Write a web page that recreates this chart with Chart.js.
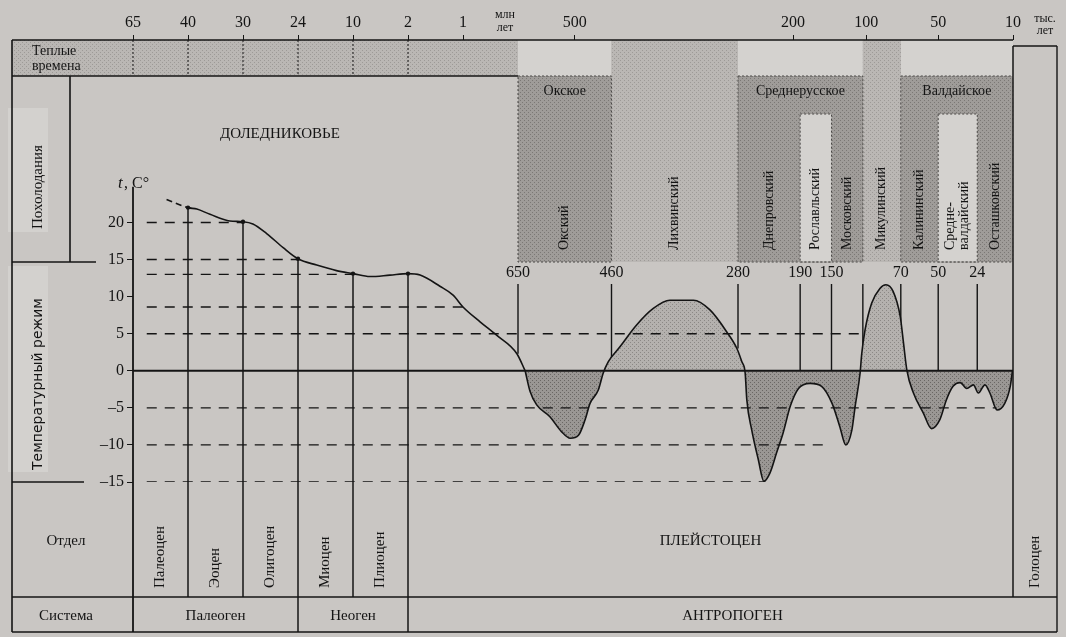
<!DOCTYPE html>
<html lang="ru">
<head>
<meta charset="utf-8">
<title>Температурный режим кайнозоя</title>
<script src="https://cdn.jsdelivr.net/npm/chart.js@4.4.1/dist/chart.umd.min.js"></script>
<style>
  html, body { margin: 0; padding: 0; background: #c9c6c3; }
  #grafico { display: block; }
</style>
</head>
<body>
<canvas id="grafico" width="1066" height="637"></canvas>
<script>
// Шкала времени: положение на схеме (усл. ед.) и подпись возраста
const ageTickPos   = [0, 10, 20, 30, 40, 50, 60, 80.3, 120, 133.3, 146.4, 160];
const ageTickLabel = ['65', '40', '30', '24', '10', '2', '1', '500', '200', '100', '50', '10'];

// Деления шкалы температуры
const tempTicks = [-15, -10, -5, 0, 5, 10, 15, 20];

// Кривая температуры до оледенений (млн лет)
const preglacialPos  = [6.1, 10, 11.6, 14, 17.6, 20, 21.8, 24.3, 27.3, 30, 33.4, 37, 40, 43.1, 46.7, 50, 52.2, 55.8, 58.2, 60, 63.1, 66.1, 69.8, 71.3];
const preglacialTemp = [23.1, 22, 21.8, 21.1, 20.2, 20.1, 19.8, 18.5, 16.6, 15.1, 14.25, 13.5, 13.1, 12.7, 12.9, 13.1, 12.9, 11.4, 10.2, 8.6, 6.6, 4.8, 2.3, 0];

// Кривая температуры в плейстоцене (тыс. лет)
const pleistPos  = [71.3, 72.2, 73.4, 75.8, 77.9, 79.5, 81, 82.2, 83.1, 84.6, 85.5, 86.4, 88.5, 91.6, 94.6, 97.6, 101.9, 104.9, 107.9, 109.8,
  110.7, 111.3, 111.6, 112.5, 113.7, 114.7, 115.8, 117, 118.2, 119.5, 121, 123.1, 125.2, 127.1, 128.5, 129.6, 130.7, 131.3, 132.2, 132.5,
  133.1, 134.3, 135.8, 136.9, 138.2, 139.5, 140.1, 140.7, 141.9, 143.7, 145.2, 146.7, 147.9, 149.1, 150.4, 151.6, 152.8, 153.7, 154.9, 155.8,
  157.1, 158.5, 159.5, 159.9];
const pleistTemp = [0, -2.8, -4.6, -6.2, -8.2, -9.1, -8.7, -6.6, -4.4, -2.6, -0.3, 1.2, 3.2, 6.2, 8.4, 9.5, 9.5, 8.2, 5.3, 3.0,
  1.2, -0.3, -3.9, -8.0, -12.0, -14.9, -13.8, -11.1, -8.4, -4.8, -2.4, -1.7, -2.1, -4.4, -7.5, -10.0, -8.0, -4.8, -0.3, 2.3,
  5.5, 9.1, 11.1, 11.6, 10.7, 7.3, 3.7, 0.1, -3.0, -5.7, -7.8, -6.6, -3.9, -2.1, -1.6, -2.4, -1.9, -3.0, -1.9, -3.0,
  -5.3, -4.4, -2.1, 0];

// Температура на границах отделов
const epochBoundPos  = [10, 20, 30, 40, 50];
const epochBoundTemp = [22, 20.1, 15.1, 13.1, 13.1];

// Опорные уровни температуры (пунктир) и где они кончаются
const refLevelTemp = [20, 15, 13, 8.6, 5, -5, -10, -15];
const refLevelEnd  = [20, 30, 40, 60, 132.8, 157, 126, 115];
const refLevelStart = 2.5;

// Границы горизонтов плейстоцена (тыс. лет) и температура в точке
const stageBoundPos   = [70, 87, 110, 121.3, 127, 132.7, 139.6, 146.4, 153.5];
const stageBoundLabel = ['650', '460', '280', '190', '150', '', '70', '50', '24'];
const stageBoundTemp  = [2.3, 1.2, 3.0, 0, 0, 0, 5.5, 0, 0];
const holoceneStart = 160;

// Горизонты: название и тип (cold - ледниковый, warm - межледниковый, inter - межстадиал)
const stageNames = ['Окский', 'Лихвинский', 'Днепровский', 'Рославльский', 'Московский', 'Микулинский', 'Калининский', 'Средне-\nвалдайский', 'Осташковский'];
const stageType  = ['cold', 'warm', 'cold', 'inter', 'cold', 'warm', 'cold', 'inter', 'cold'];

// Оледенения
const glacialNames = ['Окское', 'Среднерусское', 'Валдайское'];
const glacialFrom  = [70, 110, 139.6];
const glacialTo    = [87, 132.7, 160];

// Отделы и системы
const epochNames = ['Палеоцен', 'Эоцен', 'Олигоцен', 'Миоцен', 'Плиоцен', 'ПЛЕЙСТОЦЕН', 'Голоцен'];
const epochFrom  = [0, 10, 20, 30, 40, 50, 160];
const epochTo    = [10, 20, 30, 40, 50, 160, 168];
const systemNames = ['Палеоген', 'Неоген', 'АНТРОПОГЕН'];
const systemFrom  = [0, 30, 50];
const systemTo    = [30, 50, 168];

// ---- Оформление ----
const SERIF = '"Liberation Serif", "DejaVu Serif", serif';
const INK = '#141414';
const BG = '#c9c6c3';
const ROW = { bandTop: 40, bandBottom: 76, interTop: 114, coldBottom: 262, boundLabel: 273, boundTop: 284, split: 597, bottom: 632 };
const FRAME_LEFT = 12, INNER_COL = 70;

function hatch(base, ink) {
  const c = document.createElement('canvas');
  c.width = 4; c.height = 4;
  const g = c.getContext('2d');
  g.fillStyle = base; g.fillRect(0, 0, 4, 4);
  g.fillStyle = ink;
  g.fillRect(0, 0, 1, 1); g.fillRect(2, 2, 1, 1);
  return g.createPattern(c, 'repeat');
}
const warmHatch = hatch('#bab7b4', '#9d9a97');
const coldHatch = hatch('#9f9c99', '#7b7875');
const paleFill = '#d4d2cf';
const curveWarm = hatch('#b4b1ae', '#8b8885');
const curveCold = hatch('#9a9794', '#6a6764');

function pts(xs, ys) {
  return xs.map((x, i) => ({ x: x, y: ys[i] }));
}

function line(ctx, x1, y1, x2, y2, w, dash) {
  ctx.save();
  ctx.strokeStyle = INK;
  ctx.lineWidth = w || 1.3;
  ctx.setLineDash(dash || []);
  ctx.beginPath(); ctx.moveTo(x1, y1); ctx.lineTo(x2, y2); ctx.stroke();
  ctx.restore();
}

function text(ctx, str, x, y, size, align) {
  ctx.font = size + 'px ' + SERIF;
  ctx.fillStyle = INK;
  ctx.textAlign = align || 'center';
  ctx.textBaseline = 'middle';
  ctx.fillText(str, x, y);
}

// вертикальная подпись, читается снизу вверх, низ строки в точке y
function vtext(ctx, str, x, y, size, font) {
  const lines = str.split('\n');
  ctx.save();
  ctx.translate(x, y);
  ctx.rotate(-Math.PI / 2);
  ctx.font = size + 'px ' + (font || SERIF);
  ctx.fillStyle = INK;
  ctx.textAlign = 'left';
  ctx.textBaseline = 'middle';
  lines.forEach((s, i) => ctx.fillText(s, 0, (i - (lines.length - 1) / 2) * size));
  ctx.restore();
}

const schemePlugin = {
  id: 'scheme',
  beforeDraw(chart) {
    const ctx = chart.ctx;
    const px = v => chart.scales.x.getPixelForValue(v);
    ctx.save();
    ctx.fillStyle = BG;
    ctx.fillRect(0, 0, chart.width, chart.height);

    // полоса «Теплые времена»
    ctx.fillStyle = warmHatch;
    ctx.fillRect(FRAME_LEFT, ROW.bandTop, px(holoceneStart) - FRAME_LEFT, ROW.bandBottom - ROW.bandTop);
    glacialFrom.forEach((f, i) => {
      ctx.fillStyle = paleFill;
      ctx.fillRect(px(f), ROW.bandTop, px(glacialTo[i]) - px(f), ROW.bandBottom - ROW.bandTop);
    });

    // межледниковья и оледенения
    stageType.forEach((t, i) => {
      const a = px(stageBoundPos[i]);
      const b = px(i + 1 < stageBoundPos.length ? stageBoundPos[i + 1] : holoceneStart);
      if (t === 'warm') {
        ctx.fillStyle = warmHatch;
        ctx.fillRect(a, ROW.bandTop, b - a, ROW.coldBottom - ROW.bandTop);
      }
    });
    glacialFrom.forEach((f, i) => {
      ctx.fillStyle = coldHatch;
      ctx.fillRect(px(f), ROW.bandBottom, px(glacialTo[i]) - px(f), ROW.coldBottom - ROW.bandBottom);
    });
    stageType.forEach((t, i) => {
      if (t !== 'inter') return;
      const a = px(stageBoundPos[i]), b = px(stageBoundPos[i + 1]);
      ctx.fillStyle = paleFill;
      ctx.fillRect(a, ROW.interTop, b - a, ROW.coldBottom - ROW.interTop);
    });

    // наклеенные подписи слева
    ctx.fillStyle = '#d3d1ce';
    ctx.fillRect(8, 108, 40, 124);
    ctx.fillRect(8, 266, 40, 206);
    ctx.restore();
  },
  beforeDatasetsDraw(chart) {
    const ctx = chart.ctx;
    const xs = chart.scales.x, ys = chart.scales.y;
    const px = v => xs.getPixelForValue(v);
    const py = v => ys.getPixelForValue(v);
    const right = px(epochTo[epochTo.length - 1]);
    const holoX = px(holoceneStart);

    // рамки полосы
    line(ctx, FRAME_LEFT, ROW.bandTop, holoX, ROW.bandTop, 1.4);
    line(ctx, holoX, ROW.bandTop + 6, right, ROW.bandTop + 6, 1.4);
    line(ctx, FRAME_LEFT, ROW.bandBottom, px(glacialFrom[0]), ROW.bandBottom, 1.6);
    [0].concat(epochBoundPos).forEach(p => line(ctx, px(p), ROW.bandTop, px(p), ROW.bandBottom, 1, [2, 2]));

    // левая колонка
    line(ctx, FRAME_LEFT, ROW.bandTop, FRAME_LEFT, ROW.bottom, 1.6);
    line(ctx, INNER_COL, ROW.bandBottom, INNER_COL, ROW.coldBottom, 1.6);
    line(ctx, FRAME_LEFT, ROW.coldBottom, 96, ROW.coldBottom, 1.6);
    line(ctx, FRAME_LEFT, chart.chartArea.bottom, 84, chart.chartArea.bottom, 1.6);

    // таблица внизу
    line(ctx, FRAME_LEFT, ROW.split, right, ROW.split, 1.4);
    line(ctx, FRAME_LEFT, ROW.bottom, right, ROW.bottom, 1.4);
    line(ctx, right, ROW.bandTop + 6, right, ROW.bottom, 1.4);
    line(ctx, px(0), py(24.8), px(0), ROW.bottom, 1.8);
    epochFrom.forEach((f, i) => {
      if (i === 0) return;
      const k = epochBoundPos.indexOf(f);
      const top = k >= 0 ? py(epochBoundTemp[k]) : ROW.bandTop + 6;
      const bottom = systemFrom.indexOf(f) >= 0 ? ROW.bottom : ROW.split;
      line(ctx, px(f), top, px(f), bottom, 1.5);
    });

    // рамки оледенений
    glacialFrom.forEach((f, i) => {
      ctx.save();
      ctx.strokeStyle = '#4a4846';
      ctx.lineWidth = 1;
      ctx.setLineDash([2, 2]);
      ctx.strokeRect(px(f), ROW.bandBottom, px(glacialTo[i]) - px(f), ROW.coldBottom - ROW.bandBottom);
      ctx.restore();
    });
    stageType.forEach((t, i) => {
      if (t !== 'inter') return;
      ctx.save();
      ctx.strokeStyle = '#4a4846';
      ctx.lineWidth = 1;
      ctx.setLineDash([2, 2]);
      ctx.strokeRect(px(stageBoundPos[i]), ROW.interTop, px(stageBoundPos[i + 1]) - px(stageBoundPos[i]), ROW.coldBottom - ROW.interTop);
      ctx.restore();
    });

    // границы горизонтов
    stageBoundPos.forEach((p, i) => {
      line(ctx, px(p), ROW.boundTop, px(p), py(stageBoundTemp[i]), 1.4);
      if (stageBoundLabel[i]) text(ctx, stageBoundLabel[i], px(p), ROW.boundLabel, 16);
    });

    // подписи
    text(ctx, 'млн', px(60) + 42, 15, 12);
    text(ctx, 'лет', px(60) + 42, 28, 12);
    text(ctx, 'тыс.', holoX + 32, 19, 12);
    text(ctx, 'лет', holoX + 32, 31, 12);
    text(ctx, 'Теплые', 32, 51, 14, 'left');
    text(ctx, 'времена', 32, 66, 14, 'left');
    vtext(ctx, 'Похолодания', 38, 229, 15);
    vtext(ctx, 'Температурный режим', 38, 470, 14, '"DejaVu Sans", sans-serif');
    text(ctx, 'ДОЛЕДНИКОВЬЕ', 280, 134, 15);

    ctx.save();
    ctx.font = 'italic 17px ' + SERIF;
    ctx.fillStyle = INK;
    ctx.textBaseline = 'middle';
    ctx.textAlign = 'left';
    ctx.fillText('t', 118, 184);
    ctx.font = '16px ' + SERIF;
    ctx.fillText(', C°', 124, 184);
    ctx.restore();

    glacialNames.forEach((n, i) => text(ctx, n, (px(glacialFrom[i]) + px(glacialTo[i])) / 2, 91, 14));
    stageNames.forEach((n, i) => {
      const a = px(stageBoundPos[i]);
      const b = px(i + 1 < stageBoundPos.length ? stageBoundPos[i + 1] : holoceneStart);
      vtext(ctx, n, (a + b) / 2, 250, 14);
    });

    epochNames.forEach((n, i) => {
      const a = px(epochFrom[i]), b = px(epochTo[i]);
      if (b - a < 100) vtext(ctx, n, (a + b) / 2, 588, 15);
      else text(ctx, n, (a + b) / 2, 541, 15);
    });
    systemNames.forEach((n, i) => text(ctx, n, (px(systemFrom[i]) + px(systemTo[i])) / 2, 616, 15));
    text(ctx, 'Отдел', 66, 541, 15);
    text(ctx, 'Система', 66, 616, 15);
  }
};

const ctx = document.getElementById('grafico');

const refDatasets = refLevelTemp.map((t, i) => ({
  data: [{ x: refLevelStart, y: t }, { x: refLevelEnd[i], y: t }],
  borderColor: INK,
  borderWidth: 1.4,
  borderDash: [10, 8],
  pointRadius: 0,
  order: 1
}));

const chart = new Chart(ctx, {
  type: 'line',
  data: {
    datasets: refDatasets.concat([
      {
        label: 'Доледниковье',
        data: pts(preglacialPos, preglacialTemp),
        borderColor: INK,
        borderWidth: 1.6,
        pointRadius: 0,
        cubicInterpolationMode: 'monotone',
        fill: false,
        segment: { borderDash: c => c.p0DataIndex === 0 ? [6, 4] : undefined },
        order: 2
      },
      {
        label: 'Плейстоцен',
        data: pts(pleistPos, pleistTemp),
        borderColor: INK,
        borderWidth: 1.6,
        pointRadius: 0,
        cubicInterpolationMode: 'monotone',
        fill: { target: 'origin', above: curveWarm, below: curveCold },
        order: 2
      },
      {
        label: 'Ноль',
        data: [{ x: 0, y: 0 }, { x: holoceneStart, y: 0 }],
        borderColor: INK,
        borderWidth: 2,
        pointRadius: 0,
        order: 0
      },
      {
        label: 'Границы отделов',
        data: pts(epochBoundPos, epochBoundTemp),
        showLine: false,
        pointRadius: 2.2,
        pointBackgroundColor: INK,
        pointBorderWidth: 0,
        order: 0
      }
    ])
  },
  options: {
    responsive: false,
    animation: false,
    layout: { padding: { left: 80, right: 53, top: 0, bottom: 155 } },
    plugins: {
      legend: { display: false },
      tooltip: { enabled: false }
    },
    scales: {
      x: {
        type: 'linear',
        position: 'top',
        min: 0,
        max: 160,
        afterFit: s => { s.height = 40; },
        afterBuildTicks: s => { s.ticks = ageTickPos.map(v => ({ value: v })); },
        ticks: {
          autoSkip: false,
          maxRotation: 0,
          padding: 3,
          color: INK,
          font: { family: SERIF, size: 16 },
          callback: (v, i) => ageTickLabel[i]
        },
        grid: { drawOnChartArea: false, drawTicks: true, tickLength: 5, color: INK },
        border: { display: false }
      },
      y: {
        min: -15,
        max: 44.6,
        afterFit: s => { s.width = 53; },
        afterBuildTicks: s => { s.ticks = tempTicks.map(v => ({ value: v })); },
        ticks: {
          padding: 3,
          color: INK,
          font: { family: SERIF, size: 16 },
          callback: v => v < 0 ? '\u2013' + Math.abs(v) : String(v)
        },
        grid: { drawOnChartArea: false, drawTicks: true, tickLength: 6, color: INK },
        border: { display: false }
      }
    }
  },
  plugins: [schemePlugin]
});
</script>
</body>
</html>
